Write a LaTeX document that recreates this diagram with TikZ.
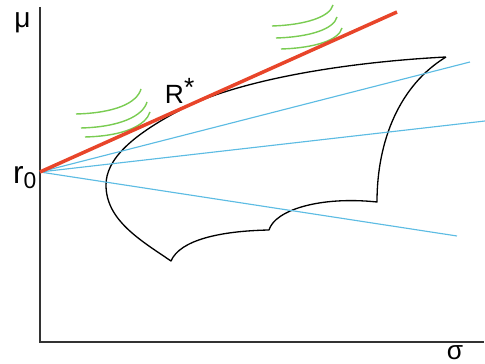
\documentclass[tikz,border=0pt]{standalone}
\usepackage{fontspec}
\setmainfont{Liberation Sans}
\usepackage{xcolor}
\usepackage{tikz}
\usetikzlibrary{positioning}

\definecolor{tanred}{HTML}{E8452A}
\definecolor{rayblue}{HTML}{5DBCE3}
\definecolor{indgreen}{HTML}{7ACC52}
\definecolor{axisgray}{HTML}{333333}

\begin{document}
\begin{tikzpicture}[x=0.02cm, y=-0.02cm,
	axis/.style={draw=axisgray, line width=0.85pt},
	frontier/.style={draw=black, line width=0.75pt, line join=round},
	tangent/.style={draw=tanred, line width=2pt},
	ray/.style={draw=rayblue, line width=0.65pt},
	utility/.style={draw=indgreen, line width=0.8pt},
	lbl/.style={inner sep=0pt, outer sep=0pt}]
				\useasboundingbox (0,0) rectangle (485,364);
				% Axes and labels:
				\coordinate (top) at (40,7);
				\coordinate (orig) at (40,342);
				\coordinate (right) at (484,342);
				\draw[axis] (top) -- (orig) -- (right);
				\node[lbl, anchor=base] (mu) at (22.5,28) {\fontsize{16}{16}\selectfont μ};
				\node[lbl, anchor=base] (sigma) at (455,360) {\fontsize{15}{15}\selectfont σ};
				\coordinate (r0) at (40,172);
				\node[lbl, anchor=base west] (r0lbl) at (13,184) {\fontsize{18}{18}\selectfont r\raisebox{-2.3pt}{\fontsize{13}{13}\selectfont 0}};
				% Feasible set:
				\draw[frontier] (446,57) .. controls (350,62) and (250,78) .. (190,105)
					.. controls (130,135) and (106,160) .. (106,185)
					.. controls (106,220) and (140,240) .. (171,261)
					.. controls (180,240) and (220,231) .. (269,230)
					.. controls (275,210) and (320,196) .. (377,202)
					.. controls (377,140) and (400,85) .. (446,57);
				% Rays from r0:
				\coordinate (b1) at (470,62);
				\coordinate (b2) at (485,121);
				\coordinate (b3) at (457,236);
				\draw[ray] (r0) -- (b1);
				\draw[ray] (r0) -- (b2);
				\draw[ray] (r0) -- (b3);
				% Indifference curves:
				\draw[utility] (76,114) .. controls (115,113) and (137,103) .. (141,89);
				\draw[utility] (81,128) .. controls (120,127) and (143,116) .. (147,102);
				\draw[utility] (85,137) .. controls (125,136) and (146,125) .. (150,112);
				\draw[utility] (272,26) .. controls (305,25) and (330,17) .. (333,5);
				\draw[utility] (276,38) .. controls (310,37) and (334,29) .. (337,17);
				\draw[utility] (281,49) .. controls (315,48) and (339,40) .. (342,28);
				% Tangent line:
				\coordinate (rend) at (397,12);
				\draw[tangent] (r0) -- (rend);
				\node[lbl, anchor=base west] (rstar) at (165,104) {\fontsize{15}{15}\selectfont R\raisebox{4pt}{\fontsize{15}{15}\selectfont *}};
			\end{tikzpicture}
\end{document}
